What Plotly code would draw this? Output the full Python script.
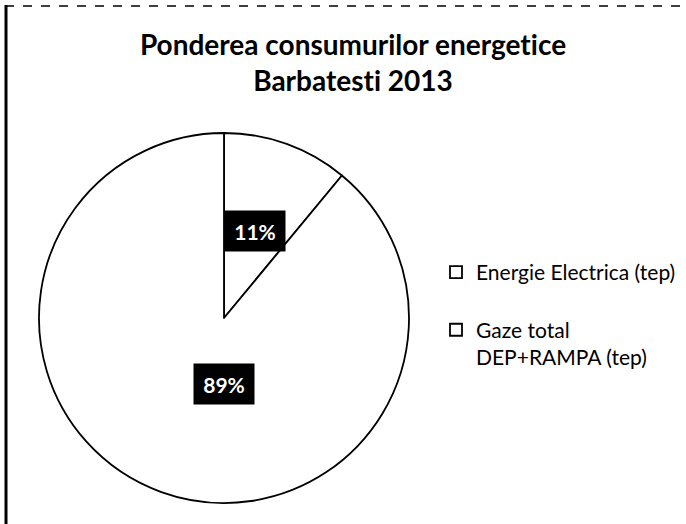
import math
import plotly.graph_objects as go

labels = ["Energie Electrica (tep)", "Gaze total<br>DEP+RAMPA (tep)"]
legend_labels = ["Energie Electrica (tep)<br> ", "Gaze total<br>DEP+RAMPA (tep)"]
values = [11, 89]
title_text = "Ponderea consumurilor energetice<br>Barbatesti 2013"

W, H = 686, 524
# pie placement (pixels)
cx, cy, r = 224, 318, 185

dom_x = [(cx - r) / W, (cx + r) / W]
dom_y = [1 - (cy + r) / H, 1 - (cy - r) / H]

fig = go.Figure()
fig.add_trace(go.Pie(
    labels=legend_labels,
    values=values,
    sort=False,
    direction="clockwise",
    rotation=0,
    textinfo="none",
    hoverinfo="label+percent",
    marker=dict(colors=["white", "white"], line=dict(color="black", width=1.8)),
    domain=dict(x=dom_x, y=dom_y),
    showlegend=True,
))

# data labels: black boxes with white text at half radius on slice mid-angle
total = sum(values)
start = 0.0
for v in values:
    frac = v / total
    mid = (start + frac / 2) * 2 * math.pi
    px = cx + 0.5 * r * math.sin(mid)
    py = cy - 0.5 * r * math.cos(mid)
    fig.add_annotation(
        x=px / W, y=1 - py / H, xref="paper", yref="paper",
        text="<b>%d%%</b>" % round(frac * 100),
        showarrow=False,
        font=dict(family="Lato", size=21, color="white"),
        bgcolor="black",
        width=58, height=38,
        align="center", valign="middle",
    )
    start += frac

# chart frame (scan edges: left and top)
fig.add_shape(type="line", xref="paper", yref="paper",
              x0=6 / W, x1=6 / W, y0=0, y1=1 - 5 / H,
              line=dict(color="black", width=3))
fig.add_shape(type="line", xref="paper", yref="paper",
              x0=5 / W, x1=1, y0=1 - 6 / H, y1=1 - 6 / H,
              line=dict(color="black", width=1.5, dash="dash"))

fig.update_layout(
    width=W, height=H,
    margin=dict(l=0, r=0, t=0, b=0),
    paper_bgcolor="white",
    plot_bgcolor="white",
    title=dict(text="<b>" + title_text + "</b>", x=353 / W, xanchor="center",
               y=1 - 55 / H, yanchor="top",
               font=dict(family="Lato", size=28, color="black")),
    legend=dict(x=436 / W, y=1 - 252 / H, xanchor="left", yanchor="top",
                font=dict(family="Lato", size=21, color="black"),
                valign="top", bgcolor="rgba(0,0,0,0)"),
    font=dict(family="Lato", color="black"),
)

post_js = (
    "document.body.style.margin='0px';"
    "var st=document.createElement('style');"
    "st.textContent='text, tspan {font-variant-ligatures: none !important;"
    " font-feature-settings: \"liga\" 0, \"clig\" 0 !important;}';"
    "document.head.appendChild(st);"
)

fig.write_html(
    "out.html",
    config={"displayModeBar": False},
    post_script=post_js,
)
